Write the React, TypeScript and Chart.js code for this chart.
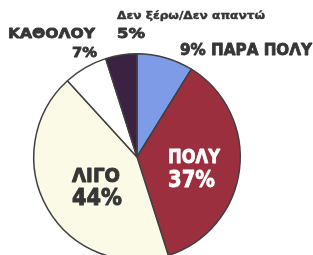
import React, { useEffect, useRef } from "react";
import { Chart, registerables } from "chart.js";

Chart.register(...registerables);

const categories = ["ΠΑΡΑ ΠΟΛΥ", "ΠΟΛΥ", "ΛΙΓΟ", "ΚΑΘΟΛΟΥ", "Δεν ξέρω/Δεν απαντώ"];
const values = [9, 37, 44, 7, 5];
const colors = ["#7e9be7", "#9b2f3e", "#fafae6", "#ffffff", "#3b2142"];

function fit(ctx: any, text: string, x: number, y: number, size: number, width: number, align: "left" | "right", stroke: number) {
  ctx.font = `bold ${size}px "DejaVu Sans", sans-serif`;
  const w = ctx.measureText(text).width;
  const sx = width / w;
  ctx.save();
  ctx.translate(align === "left" ? x : x - width, y);
  ctx.scale(sx, 1);
  ctx.textAlign = "left";
  ctx.fillText(text, 0, 0);
  if (stroke > 0) {
    ctx.lineWidth = stroke;
    ctx.lineJoin = "round";
    ctx.strokeText(text, 0, 0);
  }
  ctx.restore();
}

const labelPlugin = {
  id: "labels",
  afterDraw(chart: any) {
    const ctx = chart.ctx;
    ctx.save();
    ctx.textBaseline = "alphabetic";
    ctx.fillStyle = "#363636";
    ctx.strokeStyle = "#363636";
    fit(ctx, categories[3], 8, 38, 14, 87, "left", 0.8);
    fit(ctx, values[3] + "%", 97, 57, 14, 25, "right", 0.8);
    fit(ctx, categories[4], 117, 19, 10, 148, "left", 0.4);
    fit(ctx, values[4] + "%", 117, 38, 14, 28, "left", 0.8);
    fit(ctx, values[0] + "% " + categories[0], 180, 55, 15.5, 132, "left", 0.8);
    fit(ctx, categories[2], 72, 182, 20, 48, "left", 1);
    fit(ctx, values[2] + "%", 72, 205, 23, 50, "left", 1);
    ctx.fillStyle = "#ffffff";
    ctx.strokeStyle = "#ffffff";
    fit(ctx, categories[1], 168, 163, 20, 52, "left", 0.8);
    fit(ctx, values[1] + "%", 168, 187, 23, 47, "left", 0.8);
    ctx.restore();
  },
};

export default function App() {
  const ref = useRef<HTMLCanvasElement>(null);
  useEffect(() => {
    const chart = new Chart(ref.current!, {
      type: "pie",
      data: {
        labels: categories,
        datasets: [
          {
            data: values,
            backgroundColor: colors,
            borderColor: "#404040",
            borderWidth: 1.5,
          },
        ],
      },
      options: {
        responsive: false,
        animation: false,
        layout: { padding: { left: 33, right: 72, top: 53, bottom: 29 } },
        plugins: { legend: { display: false }, tooltip: { enabled: false } },
      },
      plugins: [labelPlugin],
    });
    return () => chart.destroy();
  }, []);
  return (
    <div style={{ position: "absolute", left: 0, top: 0, width: 313, height: 255, overflow: "hidden", background: "#fff" }}>
      <canvas ref={ref} width={313} height={290} />
    </div>
  );
}
